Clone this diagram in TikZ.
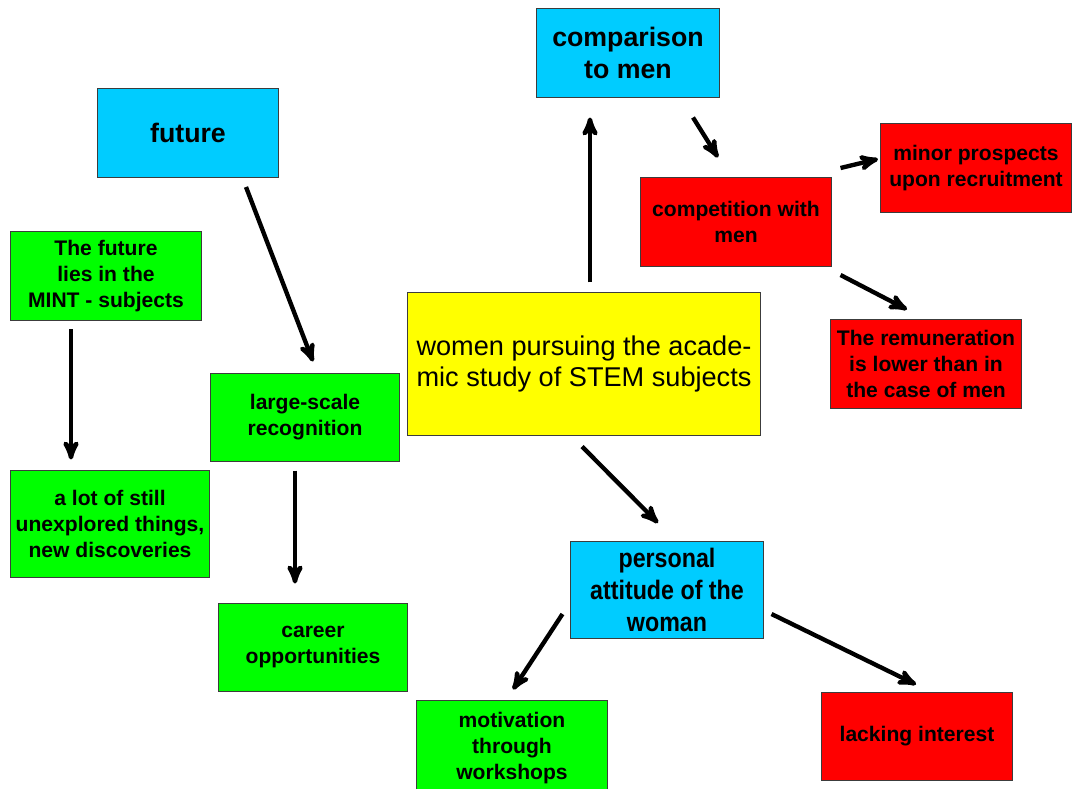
\documentclass[tikz,border=0pt]{standalone}
\usepackage{fontspec}
\setmainfont{Liberation Sans}
\usepackage{tikz}
\usetikzlibrary{arrows}

\definecolor{skyblue}{RGB}{0,204,255}
\definecolor{brightgreen}{RGB}{0,255,0}
\definecolor{brightred}{RGB}{255,0,0}
\definecolor{brightyellow}{RGB}{255,255,0}
\definecolor{edgegray}{RGB}{60,60,60}

\begin{document}
\begin{tikzpicture}[x=0.025cm,y=-0.025cm,>=stealth',
  box/.style={draw=edgegray,line width=0.7pt,align=center,inner sep=0pt},
  topic/.style={box,fill=skyblue,font=\bfseries\fontsize{19}{22.7}\selectfont},
  plus/.style={box,fill=brightgreen,font=\bfseries\fontsize{15}{18.4}\selectfont},
  minus/.style={box,fill=brightred,font=\bfseries\fontsize{15}{18.4}\selectfont},
  core/.style={box,fill=brightyellow,font=\fontsize{19.3}{22.7}\selectfont},
  arrow/.style={->,line width=3.1pt}]

  \useasboundingbox (0,0) rectangle (1089,788);

  % centre
  \node[core,minimum width=8.825cm,minimum height=3.55cm] (women) at (584,364)
    {\raisebox{-2pt}{women pursuing the acade-}\\\raisebox{-2pt}{mic study of STEM subjects}};

  % topics
  \node[topic,minimum width=4.525cm,minimum height=2.225cm] (future) at (188,133) {future};
  \node[topic,minimum width=4.55cm,minimum height=2.2cm] (compare) at (628,53) {comparison\\to men};
  \node[topic,minimum width=4.8cm,minimum height=2.425cm] (personal) at (667,590)
    {\scalebox{0.87}[1]{personal}\\\scalebox{0.87}[1]{attitude of the}\\\scalebox{0.87}[1]{woman}};

  % green boxes
  \node[plus,minimum width=4.75cm,minimum height=2.225cm] (mint) at (106,276)
    {The future\\lies in the\\MINT - subjects};
  \node[plus,minimum width=4.975cm,minimum height=2.65cm] (unexplored) at (110,524)
    {a lot of still\\unexplored things,\\new discoveries};
  \node[plus,minimum width=4.725cm,minimum height=2.2cm] (recognition) at (305,417)
    {large-scale\\recognition};
  \node[plus,minimum width=4.725cm,minimum height=2.2cm] (career) at (313,647)
    {career\\opportunities};
  \node[plus,minimum width=4.75cm,minimum height=2.4cm] (workshops) at (512,748)
    {motivation\\through\\workshops};

  % red boxes
  \node[minus,minimum width=4.75cm,minimum height=2.2cm] (competition) at (736,222)
    {competition with\\men};
  \node[minus,minimum width=4.775cm,minimum height=2.2cm] (prospects) at (976,168)
    {minor prospects\\upon recruitment};
  \node[minus,minimum width=4.75cm,minimum height=2.2cm] (remuneration) at (926,364)
    {The remuneration\\is lower than in\\the case of men};
  \node[minus,minimum width=4.75cm,minimum height=2.2cm] (interest) at (917,736)
    {lacking interest};

  % arrows
  \draw[arrow] ([shift={(58,9)}]future.south) -- ([shift={(8,-11)}]recognition.north);
  \draw[arrow] ([shift={(-35,8)}]mint.south) -- ([shift={(-39,-11)}]unexplored.north);
  \draw[arrow] ([shift={(-10,9)}]recognition.south) -- ([shift={(-18,-19)}]career.north);
  \draw[arrow] ([shift={(6,-10)}]women.north) -- ([shift={(-38,20)}]compare.south);
  \draw[arrow] ([shift={(65,20)}]compare.south) -- ([shift={(-18,-20)}]competition.north);
  \draw[arrow] ([shift={(9,-54)}]competition.east) -- ([shift={(-2,-9)}]prospects.west);
  \draw[arrow] ([shift={(9,53)}]competition.east) -- ([shift={(-19,-10)}]remuneration.north);
  \draw[arrow] ([shift={(-2,11)}]women.south) -- ([shift={(-9,-18)}]personal.north);
  \draw[arrow] ([shift={(-8,24)}]personal.west) -- ([shift={(1,-10)}]workshops.north);
  \draw[arrow] ([shift={(8,24)}]personal.east) -- ([shift={(-1,-7)}]interest.north);

\end{tikzpicture}
\end{document}
